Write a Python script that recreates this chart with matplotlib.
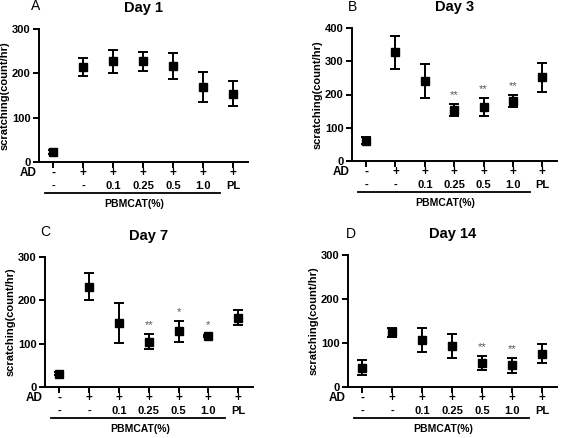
import matplotlib
matplotlib.use('Agg')
import matplotlib.pyplot as plt
import matplotlib.transforms as mtransforms

plt.rcParams['font.family'] = ['Liberation Sans', 'DejaVu Sans']

# groups along the x axis
ad_row = ['-', '+', '+', '+', '+', '+', '+']
dose_row = ['-', '-', '0.1', '0.25', '0.5', '1.0', 'PL']

# scratching counts (mean and error) per day
day1_mean = [22, 214, 227, 227, 216, 170, 154]
day1_err = [5, 20, 26, 22, 29, 34, 28]
day1_stars = ['', '', '', '', '', '', '']

day3_mean = [61, 327, 241, 152, 161, 180, 252]
day3_err = [11, 49, 51, 18, 27, 17, 44]
day3_stars = ['', '', '', '**', '**', '**', '']

day7_mean = [31, 231, 148, 105, 129, 118, 160]
day7_err = [3, 31, 46, 18, 24, 3, 17]
day7_stars = ['', '', '', '**', '*', '*', '']

day14_mean = [44, 124, 107, 94, 54, 49, 76]
day14_err = [17, 10, 28, 27, 16, 17, 21]
day14_stars = ['', '', '', '', '**', '**', '']

W, H = 565, 438
fig = plt.figure(figsize=(W / 100, H / 100), dpi=100)


def px_axes(left, top, right, bottom):
    return fig.add_axes([left / W, 1 - bottom / H, (right - left) / W, (bottom - top) / H])


def panel(ax, letter, lpos, title, mean, err, stars, ymax, ystep):
    x = list(range(len(mean)))
    ax.errorbar(x, mean, yerr=err, fmt='s', color='black', ms=6,
                elinewidth=1.4, capsize=3.5, capthick=1.4)
    ax.set_xlim(-0.48, 6.5)
    ax.set_ylim(0, ymax)
    ax.set_yticks(range(0, ymax + 1, ystep))
    ax.set_xticks(x)
    ax.spines['top'].set_visible(False)
    ax.spines['right'].set_visible(False)
    for s in ['left', 'bottom']:
        ax.spines[s].set_linewidth(1.4)
    ax.tick_params(axis='both', direction='out', length=4, width=1.4)
    ax.tick_params(axis='x', labelbottom=False)
    ax.tick_params(axis='y', pad=2)
    for lab in ax.get_yticklabels():
        lab.set_fontweight('bold')
        lab.set_fontsize(8)
    ax.set_ylabel('scratching(count/hr)', fontweight='bold', fontsize=8, labelpad=2)
    ax.set_title(title, fontweight='bold', fontsize=10.5, pad=12)

    # star marks above error bars
    for i, s in enumerate(stars):
        if s:
            ax.annotate(s, xy=(i, mean[i] + err[i]), xytext=(0, 4),
                        textcoords='offset pixels', ha='center', va='bottom',
                        fontsize=8, color='#555555')

    # treatment rows under the axis
    for i in x:
        ax.annotate(ad_row[i], xy=(i, 0), xycoords=('data', 'axes fraction'),
                    xytext=(0, -11), textcoords='offset pixels',
                    ha='center', va='center', fontsize=8.5, fontweight='bold')
        ax.annotate(dose_row[i], xy=(i, 0), xycoords=('data', 'axes fraction'),
                    xytext=(0, -24), textcoords='offset pixels',
                    ha='center', va='center', fontsize=8, fontweight='bold')
    ax.annotate('AD', xy=(0, 0), xycoords='axes fraction', xytext=(-2, -11),
                textcoords='offset pixels', ha='right', va='center',
                fontsize=8.5, fontweight='bold')
    trans = ax.get_xaxis_transform() + mtransforms.ScaledTranslation(0, -0.31, fig.dpi_scale_trans)
    ax.plot([-0.27, 5.57], [0, 0], color='black', lw=1.3, transform=trans, clip_on=False)
    ax.annotate('PBMCAT(%)', xy=(2.7, 0), xycoords=('data', 'axes fraction'),
                xytext=(0, -42), textcoords='offset pixels', ha='center',
                va='center', fontsize=7.5, fontweight='bold')
    fig.text(lpos[0] / W, 1 - lpos[1] / H, letter, fontsize=10, ha='left', va='center')


ax_a = px_axes(39, 29, 248, 162)
panel(ax_a, 'A', (31, 6), 'Day 1', day1_mean, day1_err, day1_stars, 300, 100)

ax_b = px_axes(352, 28, 557, 161)
panel(ax_b, 'B', (348, 7), 'Day 3', day3_mean, day3_err, day3_stars, 400, 100)

ax_c = px_axes(45, 257, 253, 387)
panel(ax_c, 'C', (40, 232), 'Day 7', day7_mean, day7_err, day7_stars, 300, 100)

ax_d = px_axes(348, 255, 557, 387)
panel(ax_d, 'D', (346, 234), 'Day 14', day14_mean, day14_err, day14_stars, 300, 100)

fig.savefig('out.png', dpi=100)
